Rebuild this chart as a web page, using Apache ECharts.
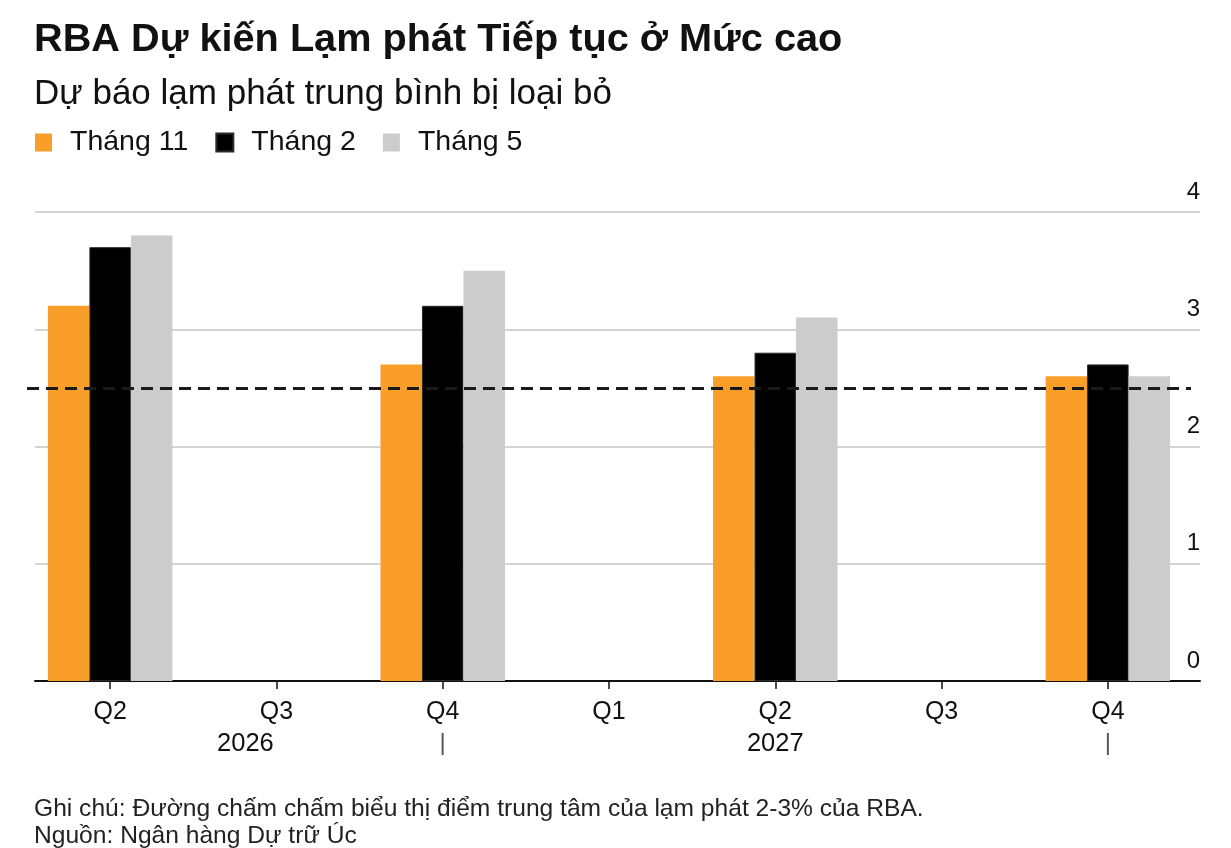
<!DOCTYPE html>
<html>
<head>
<meta charset="utf-8">
<script src="https://cdn.jsdelivr.net/npm/echarts@6/dist/echarts.min.js"></script>
<style>
  html, body { margin: 0; padding: 0; background: #fff; }
  #chart { width: 1231px; height: 848px; }
</style>
</head>
<body>
<div id="chart"></div>
<script>
// du lieu doc tu hinh goc
const quarters = ['Q2', 'Q3', 'Q4', 'Q1', 'Q2', 'Q3', 'Q4'];
const yearLabels = ['', '2026', '', '', '2027', '', ''];
const yearDividers = [false, false, true, false, false, false, true];
const seriesNames = ['Tháng 11', 'Tháng 2', 'Tháng 5'];
const novData = [3.2, null, 2.7, null, 2.6, null, 2.6];
const febData = [3.7, null, 3.2, null, 2.8, null, 2.7];
const mayData = [3.8, null, 3.5, null, 3.1, null, 2.6];
const targetMid = 2.5;
const yTicks = [0, 1, 2, 3, 4];

const FONT = '"Liberation Sans", Arial, Helvetica, sans-serif';

const chart = echarts.init(document.getElementById('chart'));

const option = {
    backgroundColor: '#fff',
    animation: false,
    textStyle: { fontFamily: FONT, color: '#111' },
    title: [
        {
            text: 'RBA Dự kiến Lạm phát Tiếp tục ở Mức cao',
            left: 34, top: 20, padding: 0,
            textStyle: { fontFamily: FONT, fontSize: 39.7, fontWeight: 'bold', color: '#111' }
        },
        {
            text: 'Dự báo lạm phát trung bình bị loại bỏ',
            left: 34, top: 77, padding: 0,
            textStyle: { fontFamily: FONT, fontSize: 35, fontWeight: 'normal', color: '#111' }
        },
        {
            text: 'Ghi chú: Đường chấm chấm biểu thị điểm trung tâm của lạm phát 2-3% của RBA.\nNguồn: Ngân hàng Dự trữ Úc',
            left: 34, top: 796, padding: 0,
            textStyle: { fontFamily: FONT, fontSize: 24.6, fontWeight: 'normal', color: '#222', lineHeight: 27 }
        }
    ],
    legend: {
        left: 35, top: 128, padding: 0,
        icon: 'rect', itemWidth: 17, itemHeight: 18, itemGap: 27,
        textStyle: { fontFamily: FONT, fontSize: 28.5, color: '#111', padding: [0, 0, 0, 13] },
        data: seriesNames
    },
    grid: [
        { left: 35, right: 31, top: 212, bottom: 167 },
        { left: 27, right: 40, top: 212, bottom: 167 }
    ],
    xAxis: [
        {
            type: 'value', gridIndex: 0, min: 0, max: 1,
            axisLine: { show: true, lineStyle: { color: '#111', width: 2 } },
            axisTick: { show: false }, axisLabel: { show: false }, splitLine: { show: false }
        },
        {
            type: 'category', gridIndex: 1, data: quarters,
            axisLine: { show: false },
            axisTick: { show: true, alignWithLabel: true, interval: 0, length: 8, lineStyle: { color: '#111', width: 1.5 } },
            axisLabel: {
                interval: 0, margin: 16, color: '#111', fontFamily: FONT,
                formatter: function (value, idx) {
                    let s = '{q|' + value + '}';
                    if (yearLabels[idx]) {
                        // nhan nam dau tien lech trai so voi Q3
                        s += '\n{y|' + yearLabels[idx] + '}' + (idx === 1 ? '{sp| }' : '');
                    } else if (yearDividers[idx]) {
                        s += '\n{d||}';
                    }
                    return s;
                },
                rich: {
                    q: { fontFamily: FONT, fontSize: 25, lineHeight: 31, color: '#111' },
                    y: { fontFamily: FONT, fontSize: 25.5, lineHeight: 31, color: '#111' },
                    sp: { width: 62, fontSize: 25, lineHeight: 31 },
                    d: { fontFamily: FONT, fontSize: 24, lineHeight: 31, color: '#555' }
                }
            }
        }
    ],
    yAxis: [
        {
            type: 'value', gridIndex: 0, position: 'right', min: 0, max: 4, interval: 1,
            axisLine: { show: false }, axisTick: { show: false },
            splitLine: { show: true, lineStyle: { color: '#d4d4d4', width: 2 } },
            axisLabel: {
                inside: true, margin: 0, align: 'right', verticalAlign: 'bottom',
                padding: [0, 0, 8, 0],
                fontFamily: FONT, fontSize: 24, color: '#111',
                formatter: function (v) { return yTicks.indexOf(v) >= 0 ? String(v) : ''; }
            }
        },
        { type: 'value', gridIndex: 1, min: 0, max: 4, show: false }
    ],
    series: [
        {
            name: seriesNames[0], type: 'bar', xAxisIndex: 1, yAxisIndex: 1,
            barWidth: 41.5, barGap: '0%',
            itemStyle: { color: '#f99f29' },
            data: novData
        },
        {
            name: seriesNames[1], type: 'bar', xAxisIndex: 1, yAxisIndex: 1,
            barWidth: 41.5, barGap: '0%',
            itemStyle: { color: '#000', borderColor: '#2a2a2a', borderWidth: 1 },
            data: febData
        },
        {
            name: seriesNames[2], type: 'bar', xAxisIndex: 1, yAxisIndex: 1,
            barWidth: 41.5, barGap: '0%',
            itemStyle: { color: '#cccccc' },
            data: mayData,
            markLine: {
                silent: true, symbol: 'none',
                label: { show: false },
                lineStyle: { color: '#1a1a1a', width: 3, type: [12, 7] },
                data: [{ yAxis: targetMid }]
            }
        }
    ]
};

chart.setOption(option);

window.addEventListener('resize', function () {
    chart.resize();
});
</script>
</body>
</html>
